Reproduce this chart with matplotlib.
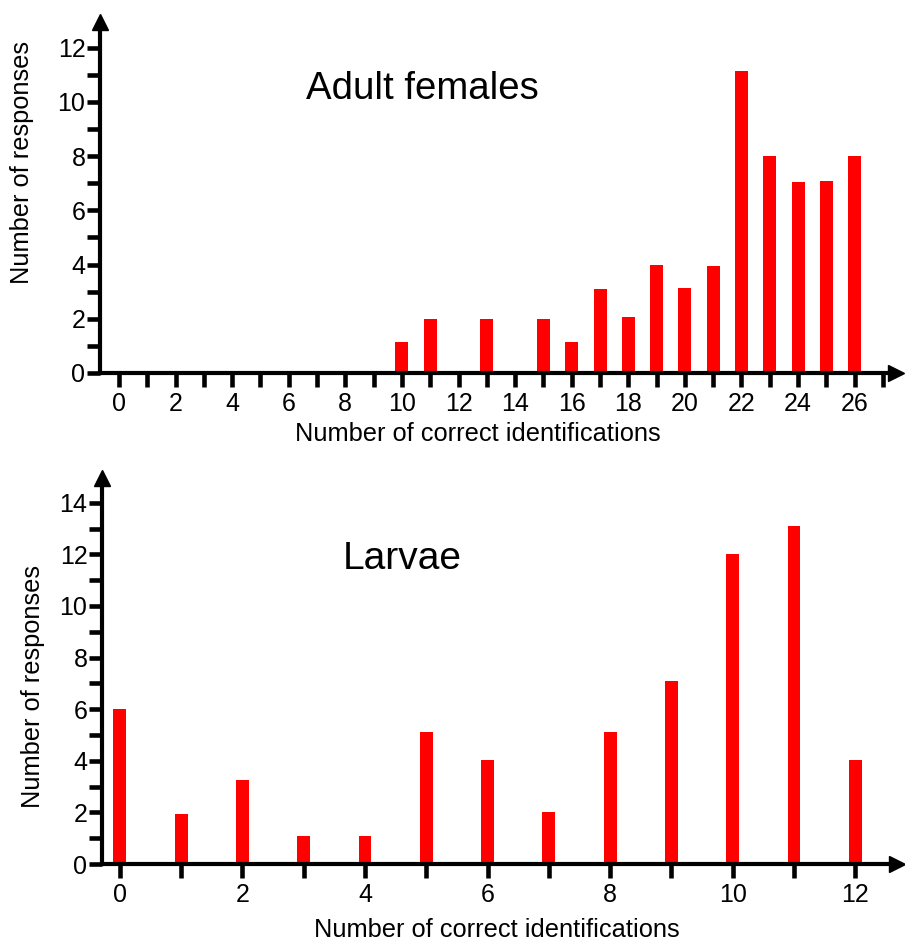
import matplotlib
matplotlib.use("Agg")
import matplotlib.pyplot as plt
from matplotlib.ticker import MultipleLocator

plt.rcParams["font.family"] = ["Liberation Sans", "DejaVu Sans"]

# adult females panel
adult_scores = [10, 11, 13, 15, 16, 17, 18, 19, 20, 21, 22, 23, 24, 25, 26]
adult_counts = [1.15, 2, 2, 2, 1.15, 3.1, 2.05, 4, 3.15, 3.95, 11.15, 8, 7.05, 7.1, 8]

# larvae panel
larvae_scores = [0, 1, 2, 3, 4, 5, 6, 7, 8, 9, 10, 11, 12]
larvae_counts = [6, 1.95, 3.25, 1.1, 1.1, 5.1, 4.05, 2, 5.1, 7.1, 12, 13.1, 4.05]

W, H = 905, 943
RED = "#ff0000"


def px_axes(fig, left, top, right, bottom):
    # pixel box (from top-left corner) -> figure fraction axes
    return fig.add_axes([left / W, 1 - bottom / H, (right - left) / W, (bottom - top) / H])


def style_axes(ax, xmax, ymax, xlim, ylim):
    ax.set_xlim(*xlim)
    ax.set_ylim(*ylim)
    for s in ["top", "right"]:
        ax.spines[s].set_visible(False)
    for s in ["left", "bottom"]:
        ax.spines[s].set_linewidth(3.0)
    ax.xaxis.set_minor_locator(MultipleLocator(1))
    ax.yaxis.set_minor_locator(MultipleLocator(1))
    ax.set_xticks(range(0, xmax + 1, 2))
    ax.set_yticks(range(0, ymax + 1, 2))
    ax.tick_params(which="both", direction="out", width=3.3, labelsize=18)
    ax.tick_params(axis="x", which="both", length=10, pad=4)
    ax.tick_params(axis="y", which="both", length=9.5, pad=1)
    # arrow heads at the axis ends
    ax.plot(1, 0, ">k", ms=12, transform=ax.transAxes, clip_on=False)
    ax.plot(0, 1, "^k", ms=12, transform=ax.transAxes, clip_on=False)


fig = plt.figure(figsize=(W / 100, H / 100), dpi=100)

ax1 = px_axes(fig, 100, 22, 896, 373)
ax1.bar(adult_scores, adult_counts, width=0.46, color=RED)
style_axes(ax1, 26, 12, (-0.67, 27.46), (0, 12.95))
ax1.text(0.405, 0.81, "Adult females", transform=ax1.transAxes, fontsize=27.6,
         ha="center", va="center")
ax1.set_xlabel("Number of correct identifications", fontsize=18.3)
ax1.xaxis.set_label_coords(0.475, -0.175)
ax1.xaxis.label.set_va("center")
ax1.set_ylabel("Number of responses", fontsize=18.3)
ax1.yaxis.set_label_coords(-0.098, 0.6)
ax1.yaxis.label.set_va("center")

ax2 = px_axes(fig, 102, 478, 897, 864)
ax2.bar(larvae_scores, larvae_counts, width=0.21, color=RED)
style_axes(ax2, 12, 14, (-0.29, 12.68), (0, 14.96))
ax2.text(0.378, 0.79, "Larvae", transform=ax2.transAxes, fontsize=28,
         ha="center", va="center")
ax2.set_xlabel("Number of correct identifications", fontsize=18.3)
ax2.xaxis.set_label_coords(0.497, -0.170)
ax2.xaxis.label.set_va("center")
ax2.set_ylabel("Number of responses", fontsize=18.3)
ax2.yaxis.set_label_coords(-0.087, 0.46)
ax2.yaxis.label.set_va("center")

fig.savefig("out.png", dpi=100)
